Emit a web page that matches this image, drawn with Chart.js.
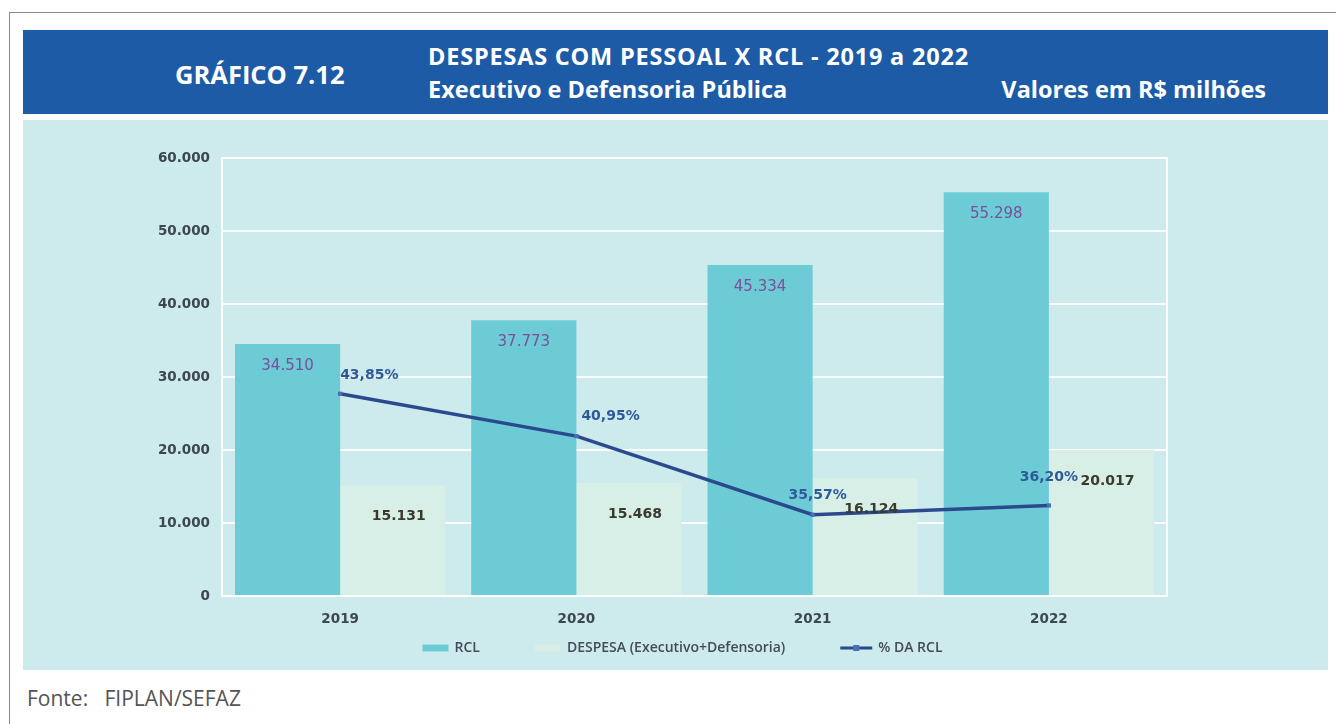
<!DOCTYPE html>
<html lang="pt-BR">
<head>
<meta charset="utf-8">
<title>Despesas com Pessoal x RCL</title>
<script src="https://cdn.jsdelivr.net/npm/chart.js@4.4.0/dist/chart.umd.min.js"></script>
<style>
  body { margin: 0; background: #fff; width: 1336px; height: 724px; position: relative; overflow: hidden; font-family: "Open Sans", sans-serif; }
  #frame { position: absolute; left: 9px; top: 12px; width: 1330px; height: 720px; border-top: 1px solid #8a8a8a; border-left: 1px solid #8a8a8a; }
  #band { position: absolute; left: 23px; top: 30px; width: 1305px; height: 84px; background: #1d5ba6; color: #fff; font-weight: 700; }
  #band div { position: absolute; white-space: nowrap; line-height: 1; }
  #chartBox { position: absolute; left: 23px; top: 120px; width: 1305px; height: 550px; }
  #fonte { position: absolute; left: 27px; top: 688px; font-size: 21px; color: #555; white-space: pre; line-height: 1; }
</style>
</head>
<body>
<div id="frame"></div>
<div id="band">
  <div style="left:152px; top:32px; font-size:25.5px;">GRÁFICO 7.12</div>
  <div style="left:405px; top:15px; font-size:23.5px; letter-spacing:0.8px;">DESPESAS COM PESSOAL X RCL - 2019 a 2022</div>
  <div style="left:405px; top:48px; font-size:23.5px;">Executivo e Defensoria Pública</div>
  <div style="right:62px; top:48px; font-size:23.5px;">Valores em R$ milhões</div>
</div>
<div id="chartBox"><canvas id="despesaChart" width="1305" height="550"></canvas></div>
<div id="fonte">Fonte:   FIPLAN/SEFAZ</div>

<script>
// Data (R$ milhões)
const years = ['2019', '2020', '2021', '2022'];
const rclValues = [34510, 37773, 45334, 55298];
const despesaValues = [15131, 15468, 16124, 20017];
const pctRcl = [43.85, 40.95, 35.57, 36.20];
const pctLabels = ['43,85%', '40,95%', '35,57%', '36,20%'];
const yTickValues = [0, 10000, 20000, 30000, 40000, 50000, 60000];
const seriesNames = ['RCL', 'DESPESA (Executivo+Defensoria)', '% DA RCL'];

const colors = {
  bg: '#cdeaec',
  rcl: '#6ccbd5',
  despesa: '#d7efe6',
  line: '#2b4a8e',
  point: '#4a70b2',
  rclText: '#7a4f9c',
  despesaText: '#3a3a2c',
  pctText: '#2f5a9a',
  axisText: '#3d4752',
  legendText: '#454a58'
};

// where each % label sits relative to its point
const pctAlign = ['left', 'left', 'center', 'center'];
const pctDx = [0, 5, 5, 0];
const pctDy = [-18, -20, -19, -28];

function fmt(v) {
  return String(v).replace(/\B(?=(\d{3})+(?!\d))/g, '.');
}

// Cyan background + white frame round the plot
const backgroundPlugin = {
  id: 'background',
  beforeDraw(chart) {
    const ctx = chart.ctx;
    ctx.save();
    ctx.fillStyle = colors.bg;
    ctx.fillRect(0, 0, chart.width, chart.height);
    ctx.restore();
  },
  beforeDatasetsDraw(chart) {
    const a = chart.chartArea;
    const ctx = chart.ctx;
    ctx.save();
    ctx.strokeStyle = 'rgba(255,255,255,0.9)';
    ctx.lineWidth = 2;
    ctx.strokeRect(a.left, a.top, a.right - a.left, a.bottom - a.top);
    ctx.restore();
  }
};

// Value labels on bars and line
const labelsPlugin = {
  id: 'valueLabels',
  afterDatasetsDraw(chart) {
    const ctx = chart.ctx;
    ctx.save();
    ctx.textBaseline = 'middle';
    ctx.textAlign = 'center';

    ctx.font = '15px "DejaVu Sans"';
    ctx.fillStyle = colors.rclText;
    chart.getDatasetMeta(0).data.forEach((bar, i) => {
      ctx.fillText(fmt(rclValues[i]), bar.x, bar.y + 22);
    });

    ctx.font = 'bold 14px "DejaVu Sans"';
    ctx.fillStyle = colors.despesaText;
    chart.getDatasetMeta(1).data.forEach((bar, i) => {
      ctx.fillText(fmt(despesaValues[i]), bar.x + 6, bar.y + 31);
    });

    ctx.fillStyle = colors.pctText;
    chart.getDatasetMeta(2).data.forEach((pt, i) => {
      ctx.textAlign = pctAlign[i];
      ctx.fillText(pctLabels[i], pt.x + pctDx[i], pt.y + pctDy[i]);
    });
    ctx.restore();
  }
};

// Legend drawn by hand so the spacing can follow the original
const legendPlugin = {
  id: 'customLegend',
  afterDraw(chart) {
    const ctx = chart.ctx;
    const y = 528;
    const gap = 55;
    ctx.save();
    ctx.font = '600 14px "Open Sans"';
    ctx.textBaseline = 'middle';
    ctx.textAlign = 'left';

    const swatchW = [26, 26, 32];
    const items = seriesNames.map((name, i) => ({ name, sw: swatchW[i], tw: ctx.measureText(name).width }));
    const total = items.reduce((s, it) => s + it.sw + 6 + it.tw, 0) + gap * (items.length - 1);
    let x = chart.width / 2 + 7 - total / 2;

    items.forEach((it, i) => {
      if (i < 2) {
        ctx.fillStyle = i === 0 ? colors.rcl : colors.despesa;
        ctx.fillRect(x, y - 3.5, it.sw, 7);
      } else {
        ctx.strokeStyle = colors.line;
        ctx.lineWidth = 3;
        ctx.beginPath();
        ctx.moveTo(x, y);
        ctx.lineTo(x + it.sw, y);
        ctx.stroke();
        ctx.fillStyle = colors.point;
        ctx.fillRect(x + it.sw / 2 - 3, y - 3, 6, 6);
      }
      x += it.sw + 6;
      ctx.fillStyle = colors.legendText;
      ctx.fillText(it.name, x, y);
      x += it.tw + gap;
    });
    ctx.restore();
  }
};

function renderChart() {
  const ctx = document.getElementById('despesaChart').getContext('2d');

  new Chart(ctx, {
    data: {
      labels: years,
      datasets: [
        {
          type: 'bar',
          label: seriesNames[0],
          data: rclValues,
          backgroundColor: colors.rcl,
          barPercentage: 1,
          categoryPercentage: 0.89,
          yAxisID: 'y',
          order: 2
        },
        {
          type: 'bar',
          label: seriesNames[1],
          data: despesaValues,
          backgroundColor: colors.despesa,
          barPercentage: 1,
          categoryPercentage: 0.89,
          yAxisID: 'y',
          order: 2
        },
        {
          type: 'line',
          label: seriesNames[2],
          data: pctRcl,
          borderColor: colors.line,
          backgroundColor: colors.line,
          borderWidth: 3.5,
          pointStyle: 'rect',
          pointRadius: 3,
          pointBackgroundColor: colors.point,
          pointBorderWidth: 0,
          tension: 0,
          yAxisID: 'y1',
          order: 0
        }
      ]
    },
    options: {
      responsive: false,
      animation: false,
      layout: { padding: { top: 38, right: 161, bottom: 44, left: 0 } },
      scales: {
        x: {
          grid: { display: false, drawTicks: false },
          border: { display: false },
          ticks: {
            color: colors.axisText,
            font: { family: 'DejaVu Sans', size: 13.5, weight: 'bold' },
            padding: 15
          },
          afterFit(scale) { scale.height = 30; }
        },
        y: {
          min: 0,
          max: 60000,
          afterBuildTicks(scale) { scale.ticks = yTickValues.map(v => ({ value: v })); },
          grid: { color: 'rgba(255,255,255,0.9)', lineWidth: 2, drawTicks: false },
          border: { display: false },
          ticks: {
            color: colors.axisText,
            font: { family: 'DejaVu Sans', size: 13.5, weight: 'bold' },
            padding: 12,
            callback: v => fmt(v)
          },
          afterFit(scale) { scale.width = 199; }
        },
        y1: {
          display: false,
          min: 30,
          max: 60
        }
      },
      plugins: {
        legend: { display: false },
        tooltip: { enabled: false }
      }
    },
    plugins: [backgroundPlugin, labelsPlugin, legendPlugin]
  });
}

renderChart();
</script>
</body>
</html>
